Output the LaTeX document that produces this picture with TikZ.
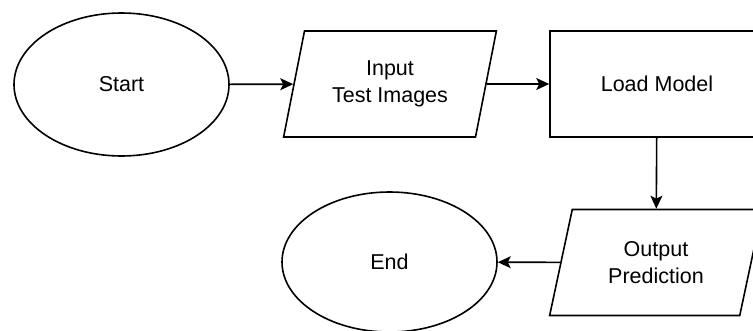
\documentclass[tikz,border=0pt]{standalone}
\usepackage{fontspec}
\setmainfont{Liberation Sans}
\usetikzlibrary{shapes.geometric,arrows.meta}
\begin{document}
\begin{tikzpicture}[x=1pt,y=-1pt,
  every node/.style={font=\fontsize{21.5}{27}\selectfont, align=center, inner sep=0pt, line width=1.6pt, draw=black},
  oval/.style={ellipse, minimum width=215pt, minimum height=143pt},
  io/.style={trapezium, trapezium left angle=73, trapezium right angle=107, trapezium stretches=true, minimum width=213pt, minimum height=106pt},
  proc/.style={rectangle, minimum width=214pt, minimum height=106pt},
  conn/.style={line width=1.6pt, -{Stealth[length=13pt,width=12pt,inset=3pt]}}]
\clip (0,0) rectangle (753,330);
\fill[white] (0,0) rectangle (753,330);
\node[oval] (start) at (121.5,84.5) {Start};
\node[io] (input) at (390,84) {Input\\Test Images};
\node[proc] (load) at (657,84) {Load Model};
\node[io] (output) at (656,262.5) {Output\\Prediction};
\node[oval, minimum height=140pt] (end) at (389.5,262) {End};
\draw[conn] (start) -- (input);
\draw[conn] (input) -- (load);
\draw[conn] (load) -- (output);
\draw[conn] (output) -- (end);
\end{tikzpicture}
\end{document}
